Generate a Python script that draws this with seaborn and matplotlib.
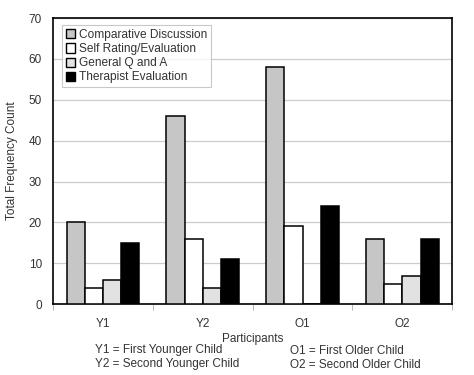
import pandas as pd
import matplotlib.pyplot as plt
import seaborn as sns

# --- Data ---
participants = ["Y1", "Y2", "O1", "O2"]
series = ["Comparative Discussion", "Self Rating/Evaluation", "General Q and A", "Therapist Evaluation"]
comparative = [20, 46, 58, 16]
self_rating = [4, 16, 19, 5]
general_qa = [6, 4, 0, 7]
therapist = [15, 11, 24, 16]

colors = {"Comparative Discussion": "#c6c6c6",
          "Self Rating/Evaluation": "#ffffff",
          "General Q and A": "#e2e2e2",
          "Therapist Evaluation": "#000000"}

rows = []
for name, vals in zip(series, [comparative, self_rating, general_qa, therapist]):
    for p, v in zip(participants, vals):
        rows.append({"Participant": p, "Type": name, "Count": v})
df = pd.DataFrame(rows)

sns.set_style("white")
plt.rcParams['font.family'] = ['Liberation Sans', 'DejaVu Sans']

fig = plt.figure(figsize=(4.74, 3.75), dpi=100)
ax = fig.add_axes([0.112, 0.189, 0.842, 0.763])

sns.barplot(data=df, x="Participant", y="Count", hue="Type", hue_order=series,
            palette=colors, width=0.73, gap=0, edgecolor="black", linewidth=1.1,
            errorbar=None, ax=ax, zorder=3, legend=False)

ax.set_ylim(0, 70)
ax.set_xlim(-0.5, 3.5)
ax.set_yticks(range(0, 71, 10))
ax.yaxis.grid(True, color="#cccccc", linewidth=0.9, zorder=0)
for s in ax.spines.values():
    s.set_color("black")
    s.set_linewidth(1.2)

# category boundary ticks
ax.set_xticks([-0.5, 0.5, 1.5, 2.5, 3.5], minor=True)
ax.tick_params(axis="x", which="minor", length=4, color="#aaaaaa", direction="out", bottom=True)
ax.tick_params(axis="x", which="major", length=0, labelsize=8.5, pad=10, labelcolor="#333333")
ax.tick_params(axis="y", length=0, labelsize=8.5, pad=8, labelcolor="#333333")
ax.set_xlabel("Participants", fontsize=8.5, labelpad=2, color="#333333")
ax.set_ylabel("Total Frequency Count", fontsize=8.5, labelpad=8, color="#333333")

handles = [plt.Rectangle((0, 0), 1, 1, facecolor=colors[s], edgecolor="black", linewidth=1) for s in series]
leg = ax.legend(handles, series, loc="upper left", bbox_to_anchor=(0.008, 0.995),
                fontsize=8.6, frameon=True, fancybox=False, handlelength=0.8, handleheight=0.8,
                handletextpad=0.3, labelspacing=0.18, borderpad=0.3, labelcolor="#333333")
leg.get_frame().set_edgecolor("#bbbbbb")
leg.get_frame().set_linewidth(0.8)

fig.text(0.2, 0.067, "Y1 = First Younger Child", fontsize=8.5, va="center", color="#333333")
fig.text(0.2, 0.03, "Y2 = Second Younger Child", fontsize=8.5, va="center", color="#333333")
fig.text(0.612, 0.064, "O1 = First Older Child", fontsize=8.5, va="center", color="#333333")
fig.text(0.612, 0.027, "O2 = Second Older Child", fontsize=8.5, va="center", color="#333333")

fig.savefig("out.png", dpi=100)
